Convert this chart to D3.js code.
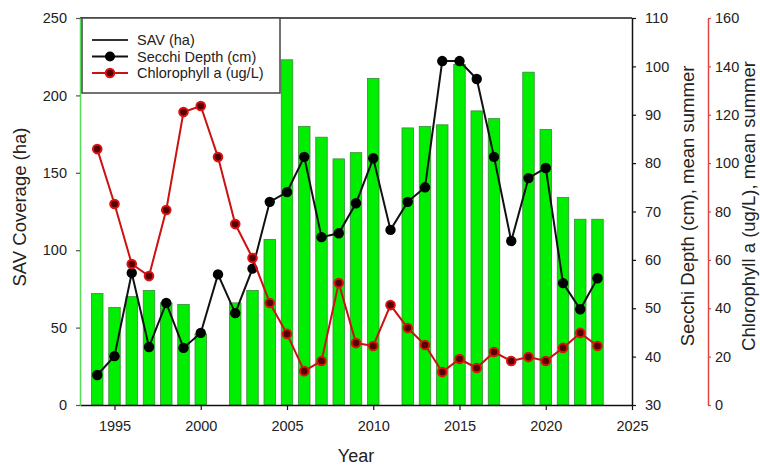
<!DOCTYPE html>
<html>
<head>
<meta charset="utf-8">
<script src="https://cdn.jsdelivr.net/npm/d3@7"></script>
<style>
  body { margin: 0; background: #fff; }
  svg { font-family: "Liberation Sans", Arial, sans-serif; }
</style>
</head>
<body>
<svg id="chart" width="760" height="467"></svg>
<script>
// data
var years = [1994,1995,1996,1997,1998,1999,2000,2001,2002,2003,2004,2005,2006,2007,2008,
             2009,2010,2011,2012,2013,2014,2015,2016,2017,2018,2019,2020,2021,2022,2023];
// SAV coverage (ha), null where no survey
var sav = [72,63,70,74,66,65,46,null,66,74,107,223,180,173,159,
           163,211,null,179,180,181,220,190,185,null,215,178,134,120,120];
// Secchi depth (cm), mean summer
var secchi = [36.2,40.1,57.3,42,51.1,41.8,44.9,57,49,58.2,72,74,81.3,64.7,65.5,
              71.7,81,66.2,72,75,101.1,101.1,97.4,81.3,63.9,76.9,79,55.2,49.8,56.2];
// Chlorophyll a (ug/L), mean summer
var chla = [105.8,83.1,58.3,53.3,80.6,121.1,123.6,102.5,74.8,60.8,42.2,29.4,14,18.2,50.4,
            25.6,24.4,41.3,31.8,24.8,13.6,19,15.3,21.9,18.2,19.8,18.2,23.6,29.8,24.4];

var xTicks = [1995,2000,2005,2010,2015,2020,2025];
var savTicks = [0,50,100,150,200,250];
var secchiTicks = [30,40,50,60,70,80,90,100,110];
var chlaTicks = [0,20,40,60,80,100,120,140,160];

var legendItems = ["SAV (ha)", "Secchi Depth (cm)", "Chlorophyll a (ug/L)"];

var svg = d3.select("#chart");
var pL = 80, pR = 632, pT = 18, pB = 405;
var tickFs = 14.5, titleFs = 18.5;

var x = d3.scaleLinear().domain([1993, 2025]).range([pL, pR]);
var ySav = d3.scaleLinear().domain([0, 250]).range([pB, pT]);
var ySec = d3.scaleLinear().domain([30, 110]).range([pB, pT]);
var yChl = d3.scaleLinear().domain([0, 160]).range([pB, pT]);

var barW = 11.5;

// bars
svg.append("g").selectAll("rect")
  .data(years.map(function(y, i){ return {year: y, v: sav[i]}; }).filter(function(d){ return d.v != null; }))
  .enter().append("rect")
  .attr("x", function(d){ return x(d.year) - barW/2; })
  .attr("y", function(d){ return ySav(d.v); })
  .attr("width", barW)
  .attr("height", function(d){ return pB - ySav(d.v); })
  .attr("fill", "#00ee00")
  .attr("stroke", "#3a8a3a")
  .attr("stroke-width", 0.8);

// frame top line
svg.append("line").attr("x1", pL).attr("x2", pR).attr("y1", pT).attr("y2", pT)
  .attr("stroke", "#555").attr("stroke-width", 2);

function styleAxis(g, col, fs) {
  g.selectAll(".domain").attr("stroke", col).attr("stroke-width", 1.5);
  g.selectAll(".tick line").attr("stroke", col).attr("stroke-width", 1.2);
  g.selectAll(".tick text").attr("fill", "#222").style("font-size", fs + "px");
}

// x axis
var gx = svg.append("g").attr("transform", "translate(0," + pB + ")")
  .call(d3.axisBottom(x).tickValues(xTicks).tickFormat(d3.format("d")).tickSize(5).tickPadding(11).tickSizeOuter(0));
styleAxis(gx, "#111", tickFs);

// left axis
var gl = svg.append("g").attr("transform", "translate(" + pL + ",0)")
  .call(d3.axisLeft(ySav).tickValues(savTicks).tickSize(4).tickPadding(9).tickSizeOuter(0));
styleAxis(gl, "#55dd55", tickFs);
gl.selectAll(".tick line").attr("stroke", "#555");

// secchi axis
var gs = svg.append("g").attr("transform", "translate(" + pR + ",0)")
  .call(d3.axisRight(ySec).tickValues(secchiTicks).tickSize(4).tickPadding(9).tickSizeOuter(0));
styleAxis(gs, "#111", tickFs);

// chlorophyll axis
var gc = svg.append("g").attr("transform", "translate(708,0)")
  .call(d3.axisRight(yChl).tickValues(chlaTicks).tickSize(3).tickPadding(4).tickSizeOuter(0));
styleAxis(gc, "#dd4444", tickFs);

// secchi line
var secData = years.map(function(y, i){ return [y, secchi[i]]; });
svg.append("path").datum(secData)
  .attr("fill", "none").attr("stroke", "#111").attr("stroke-width", 2)
  .attr("d", d3.line().x(function(d){ return x(d[0]); }).y(function(d){ return ySec(d[1]); }));
svg.append("g").selectAll("circle").data(secData).enter().append("circle")
  .attr("cx", function(d){ return x(d[0]); })
  .attr("cy", function(d){ return ySec(d[1]); })
  .attr("r", 5.2).attr("fill", "#000");

// chlorophyll line
var chlData = years.map(function(y, i){ return [y, chla[i]]; });
svg.append("path").datum(chlData)
  .attr("fill", "none").attr("stroke", "#cc1111").attr("stroke-width", 2)
  .attr("d", d3.line().x(function(d){ return x(d[0]); }).y(function(d){ return yChl(d[1]); }));
svg.append("g").selectAll("circle").data(chlData).enter().append("circle")
  .attr("cx", function(d){ return x(d[0]); })
  .attr("cy", function(d){ return yChl(d[1]); })
  .attr("r", 4.3).attr("fill", "#550000").attr("stroke", "#dd1111").attr("stroke-width", 2);

// legend
var lg = svg.append("g");
lg.append("rect").attr("x", 82).attr("y", pT).attr("width", 198).attr("height", 75)
  .attr("fill", "#fff").attr("stroke", "#444").attr("stroke-width", 1.5);
var legStyles = [
  {col: "#333", marker: false},
  {col: "#111", marker: "black"},
  {col: "#cc1111", marker: "red"}
];
legendItems.forEach(function(t, i) {
  var yy = 40 + i * 16.5;
  lg.append("line").attr("x1", 92).attr("x2", 128).attr("y1", yy).attr("y2", yy)
    .attr("stroke", legStyles[i].col).attr("stroke-width", 2);
  if (legStyles[i].marker == "black") {
    lg.append("circle").attr("cx", 110).attr("cy", yy).attr("r", 5).attr("fill", "#000");
  } else if (legStyles[i].marker == "red") {
    lg.append("circle").attr("cx", 110).attr("cy", yy).attr("r", 4.3)
      .attr("fill", "#550000").attr("stroke", "#dd1111").attr("stroke-width", 2);
  }
  lg.append("text").attr("x", 137).attr("y", yy + 5).text(t)
    .style("font-size", "14.5px").attr("fill", "#222");
});

// axis titles
svg.append("text").attr("x", 356).attr("y", 462).attr("text-anchor", "middle")
  .style("font-size", "18px").attr("fill", "#222").text("Year");
svg.append("text").attr("transform", "translate(26,207) rotate(-90)").attr("text-anchor", "middle")
  .style("font-size", titleFs + "px").attr("fill", "#222").text("SAV Coverage (ha)");
svg.append("text").attr("transform", "translate(694,206) rotate(-90)").attr("text-anchor", "middle")
  .style("font-size", titleFs + "px").attr("fill", "#222").text("Secchi Depth (cm), mean summer");
svg.append("text").attr("transform", "translate(755,206) rotate(-90)").attr("text-anchor", "middle")
  .style("font-size", titleFs + "px").attr("fill", "#222").text("Chlorophyll a (ug/L), mean summer");
</script>
</body>
</html>
